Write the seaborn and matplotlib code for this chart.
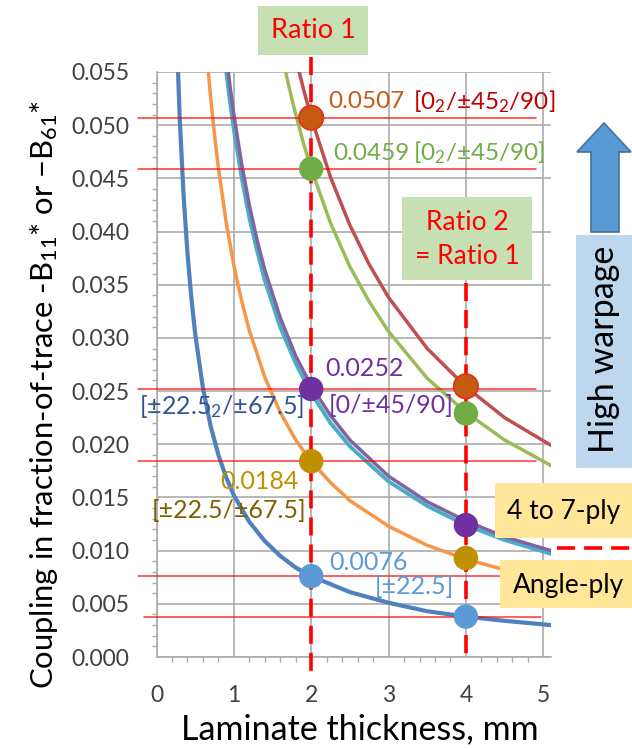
import numpy as np
import pandas as pd
import matplotlib
matplotlib.use("Agg")
import matplotlib.pyplot as plt
from matplotlib.patches import Rectangle, Polygon
from matplotlib.ticker import MultipleLocator, FormatStrFormatter
import seaborn as sns

# ---------------- data ----------------
blue_x = [0.25, 0.3, 0.35, 0.4, 0.45, 0.5, 0.6, 0.7, 0.8, 0.9, 1.0, 1.2, 1.4, 1.6, 1.8, 2.0, 2.5, 3.0, 3.5, 4.0, 4.5, 5.1]
blue_y = [0.0608, 0.0507, 0.0434, 0.0380, 0.0338, 0.0304, 0.0253, 0.0217, 0.0190, 0.0169, 0.0152, 0.0127, 0.0109, 0.0095, 0.0084, 0.0076, 0.0061, 0.0051, 0.0043, 0.0038, 0.0034, 0.0030]

orange_x = [0.6, 0.65, 0.7, 0.75, 0.8, 0.9, 1.0, 1.1, 1.2, 1.4, 1.6, 1.8, 2.0, 2.25, 2.5, 3.0, 3.5, 4.0, 4.5, 5.1]
orange_y = [0.0613, 0.0566, 0.0526, 0.0491, 0.0460, 0.0409, 0.0368, 0.0335, 0.0307, 0.0263, 0.0230, 0.0204, 0.0184, 0.0164, 0.0147, 0.0123, 0.0105, 0.0092, 0.0082, 0.0072]

cyan_x = [0.85, 0.9, 0.95, 1.0, 1.1, 1.2, 1.3, 1.4, 1.6, 1.8, 2.0, 2.25, 2.5, 3.0, 3.5, 4.0, 4.5, 5.1]
cyan_y = [0.0584, 0.0551, 0.0522, 0.0496, 0.0451, 0.0413, 0.0382, 0.0354, 0.0310, 0.0276, 0.0248, 0.0220, 0.0198, 0.0165, 0.0142, 0.0124, 0.0110, 0.0097]

purple_x = [0.9, 0.95, 1.0, 1.1, 1.2, 1.3, 1.4, 1.6, 1.8, 2.0, 2.25, 2.5, 3.0, 3.5, 4.0, 4.5, 5.1]
purple_y = [0.0567, 0.0537, 0.0510, 0.0464, 0.0425, 0.0392, 0.0364, 0.0319, 0.0283, 0.0255, 0.0227, 0.0204, 0.0170, 0.0146, 0.0128, 0.0113, 0.0100]

green_x = [1.6, 1.7, 1.8, 1.9, 2.0, 2.25, 2.5, 2.75, 3.0, 3.5, 4.0, 4.5, 5.1]
green_y = [0.0574, 0.0540, 0.0510, 0.0483, 0.0459, 0.0408, 0.0367, 0.0334, 0.0306, 0.0262, 0.0230, 0.0204, 0.0180]

red_x = [1.75, 1.8, 1.9, 2.0, 2.25, 2.5, 2.75, 3.0, 3.5, 4.0, 4.5, 5.1]
red_y = [0.0579, 0.0563, 0.0534, 0.0507, 0.0451, 0.0406, 0.0369, 0.0338, 0.0290, 0.0254, 0.0225, 0.0199]

curve_names = ["blue", "orange", "cyan", "purple", "green", "red"]
curve_colors = ["#4F81BD", "#F79646", "#4BACC6", "#8064A2", "#9BBB59", "#C0504D"]
curve_widths = [3.0, 2.5, 2.8, 2.5, 2.5, 2.5]

marker_x = [2, 2, 2, 2, 2, 4, 4, 4, 4, 4]
marker_y = [0.0507, 0.0459, 0.0252, 0.0184, 0.0076, 0.02545, 0.0229, 0.0124, 0.0093, 0.0038]
marker_group = ["r", "g", "p", "o", "b", "r", "g", "p", "o", "b"]
marker_colors = {"r": "#C55A11", "g": "#70AD47", "p": "#7030A0", "o": "#BF9000", "b": "#5B9BD5"}

hline_y = [0.0507, 0.0459, 0.0252, 0.0184, 0.0076]
hline_low_y = 0.0038

x_ticks = [0, 1, 2, 3, 4, 5]

# ---------------- figure ----------------
sns.set_theme(style="white")
plt.rcParams["font.family"] = ["Lato", "DejaVu Sans"]
plt.rcParams["mathtext.fontset"] = "custom"
plt.rcParams["mathtext.rm"] = "Lato"
plt.rcParams["mathtext.it"] = "Lato:italic"
plt.rcParams["mathtext.bf"] = "Lato:bold"

W, H = 632, 749
fig = plt.figure(figsize=(W / 100, H / 100), dpi=100)
ax = fig.add_axes([156.5 / W, (H - 657) / H, 394.5 / W, 585 / H])

frames = []
for name, xs, ys in zip(curve_names,
                        [blue_x, orange_x, cyan_x, purple_x, green_x, red_x],
                        [blue_y, orange_y, cyan_y, purple_y, green_y, red_y]):
    frames.append(pd.DataFrame({"x": xs, "y": ys, "curve": name}))
curves = pd.concat(frames, ignore_index=True)

for name, col, lw in zip(curve_names, curve_colors, curve_widths):
    sns.lineplot(data=curves[curves["curve"] == name], x="x", y="y",
                 color=col, sort=False, estimator=None, linewidth=lw,
                 legend=False, ax=ax, zorder=3)

ax.set_xlim(0, 5.1)
ax.set_ylim(0, 0.055)

# red reference lines
for yv in hline_y:
    ax.plot([-0.24, 4.9], [yv, yv], color="#FF0000", lw=1.1, alpha=0.8,
            clip_on=False, zorder=4)
ax.plot([-0.16, 4.97], [hline_low_y, hline_low_y], color="#FF0000", lw=1.1,
        alpha=0.8, clip_on=False, zorder=4)

# dashed verticals
ax.plot([2, 2], [0.0564, -0.0015], color="#FF0000", lw=2.6,
        dashes=(5, 2.5), clip_on=False, zorder=5)
ax.plot([4, 4], [0.0352, 0.0], color="#FF0000", lw=2.6,
        dashes=(5, 2.5), clip_on=False, zorder=5)

# markers
mk = pd.DataFrame({"x": marker_x, "y": marker_y, "g": marker_group})
sns.scatterplot(data=mk, x="x", y="y", hue="g", palette=marker_colors,
                s=310, linewidth=0, legend=False, ax=ax, zorder=6)
red_mk = mk[mk["g"] == "r"]
ax.scatter(red_mk["x"], red_mk["y"], s=310, facecolor="none",
           edgecolor="#E03020", linewidth=1.2, zorder=7)

# axes styling
grid_c = "#ABABAB"
ax.xaxis.set_major_locator(MultipleLocator(1))
ax.xaxis.set_minor_locator(MultipleLocator(0.2))
ax.yaxis.set_major_locator(MultipleLocator(0.005))
ax.yaxis.set_minor_locator(MultipleLocator(0.001))
ax.yaxis.set_major_formatter(FormatStrFormatter("%.3f"))
ax.set_xticks(x_ticks)
ax.set_xticklabels([str(v) for v in x_ticks])
ax.grid(True, which="major", color=grid_c, lw=1.2)
ax.set_axisbelow(True)
for s in ["top", "right"]:
    ax.spines[s].set_visible(False)
for s in ["left", "bottom"]:
    ax.spines[s].set_color(grid_c)
    ax.spines[s].set_linewidth(1.2)
ax.tick_params(which="major", direction="out", length=6.5, width=1.2,
               color=grid_c, labelsize=16.5, labelcolor="#404040")
ax.tick_params(axis="x", which="major", pad=14)
ax.tick_params(axis="y", which="major", pad=13)
ax.tick_params(which="minor", direction="out", length=3.6, width=1.0,
               color=grid_c, left=True, bottom=True)

ax.set_xlabel("Laminate thickness, mm", fontsize=24.5, color="black")
ax.xaxis.label.set_va("center")
ax.xaxis.set_label_coords((360 - 156.5) / 394.5, (657 - 729) / 585)
ax.set_ylabel(r"Coupling in fraction-of-trace -B$\mathregular{_{11}}$* or −B$\mathregular{_{61}}$*",
              fontsize=22.3, color="black")
ax.yaxis.label.set_va("center")
ax.yaxis.set_label_coords((44 - 156.5) / 394.5, (657 - 394) / 585)


# ---------- helpers in pixel coords ----------
def fx(px):
    return px / W


def fy(py):
    return 1 - py / H


def box(x0, y0, x1, y1, color):
    fig.patches.append(Rectangle((fx(x0), fy(y1)), fx(x1) - fx(x0), fy(y0) - fy(y1),
                                 transform=fig.transFigure, facecolor=color,
                                 edgecolor="none", zorder=1))


def label(px, py, s, color, size=17, ha="left", **kw):
    fig.text(fx(px), fy(py), s, color=color, fontsize=size, ha=ha, va="center", **kw)


# annotations
label(328, 102, "0.0507", "#C55A11", 17.5)
label(413, 102, r"[0$\mathregular{_2}$/±45$\mathregular{_2}$/90]", "#C00000", 17.5)
label(333, 153, "0.0459", "#70AD47", 17.5)
label(413, 153, r"[0$\mathregular{_2}$/±45/90]", "#70AD47", 17.5)
label(325, 369, "0.0252", "#7030A0", 18)
label(329, 405, "[0/±45/90]", "#7030A0", 18)
label(304, 407, r"[±22.5$\mathregular{_2}$/±67.5]", "#2F5597", 18, ha="right")
label(299, 482, "0.0184", "#BF9000", 18, ha="right")
label(306, 511, "[±22.5/±67.5]", "#7F6000", 18, ha="right")
label(329, 563, "0.0076", "#5B9BD5", 18)
label(375, 587, "[±22.5]", "#5B9BD5", 18)

# boxes on the right / top
box(258, 6, 368, 55, "#C6E0B4")
label(313, 31, "Ratio 1", "#FF0000", 19.5, ha="center")
box(402, 197, 532, 280, "#C6E0B4")
label(467, 223, "Ratio 2", "#FF0000", 19, ha="center")
label(467, 256, "= Ratio 1", "#FF0000", 19, ha="center")

box(576, 235, 632, 468, "#BDD7EE")
label(604, 349, "High warpage", "black", 24.5, ha="center", rotation=90)

box(495, 483, 632, 538, "#FFE699")
label(564, 511, "4 to 7-ply", "black", 19, ha="center")
box(500, 560, 632, 608, "#FFE699")
label(569, 586, "Angle-ply", "black", 19, ha="center")

fig.lines.append(plt.Line2D([fx(557), fx(632)], [fy(548), fy(548)],
                            transform=fig.transFigure, color="#FF0000",
                            lw=2.6, dashes=(5, 2.5)))

arrow_px = [(591, 232), (591, 152), (577, 152), (604, 123), (631, 152), (619, 152), (619, 232)]
fig.patches.append(Polygon([(fx(a), fy(b)) for a, b in arrow_px], closed=True,
                           transform=fig.transFigure, facecolor="#5B9BD5",
                           edgecolor="#41719C", lw=1.2, zorder=1))

fig.savefig("out.png", dpi=100)
